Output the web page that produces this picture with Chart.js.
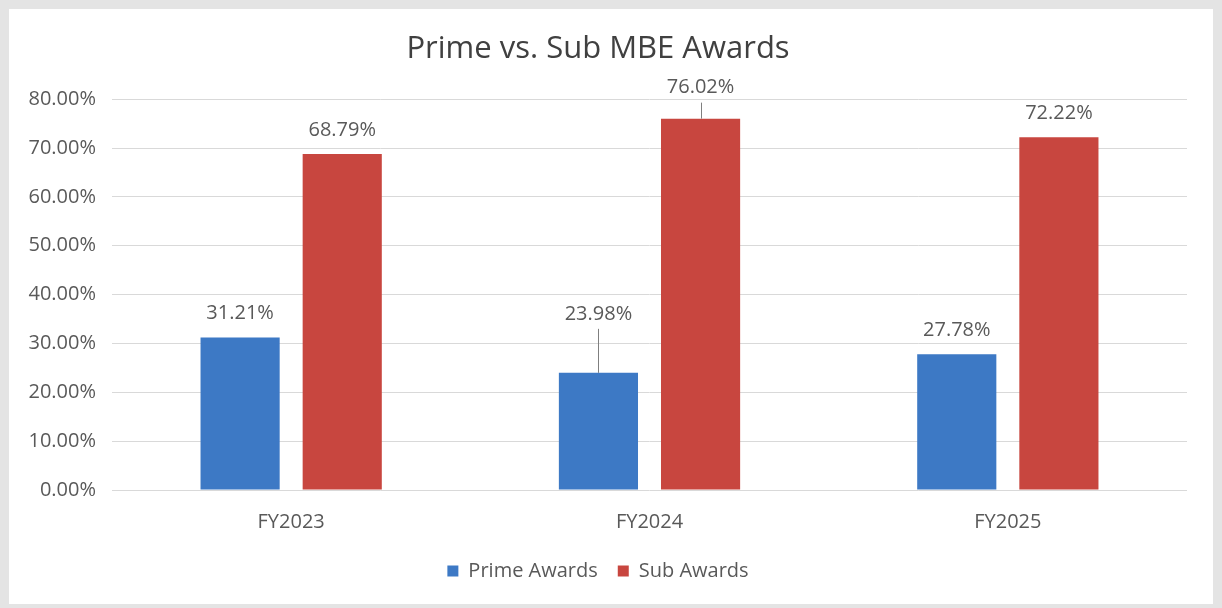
<!DOCTYPE html>
<html>
<head>
<meta charset="utf-8">
<script src="https://cdn.jsdelivr.net/npm/chart.js@4.4.1/dist/chart.umd.min.js"></script>
<style>
    html, body { margin: 0; padding: 0; background: #e4e4e4; }
    #boxPanel {
        position: absolute; left: 9px; top: 9px;
        width: 1204px; height: 595px; background: #ffffff;
    }
</style>
</head>
<body>
<div id="boxPanel"><canvas id="graficoAwards" width="1204" height="595"></canvas></div>
<script>
// Dados do gráfico (%)
const categorias = ['FY2023', 'FY2024', 'FY2025'];
const primeAwards = [31.21, 23.98, 27.78];
const subAwards = [68.79, 76.02, 72.22];
const ticksY = [0, 10, 20, 30, 40, 50, 60, 70, 80];

// rótulos arrastados no FY2024 (deslocamento extra + linha guia)
const extraPrime = [0, 35, 0];
const extraSub = [0, 7, 0];

const corTexto = '#595959';
const fonte = '"Open Sans", "Noto Sans", sans-serif';

// desenha os rótulos de valor acima das barras
const pluginRotulos = {
    id: 'rotulos',
    afterDatasetsDraw(chart) {
        const ctx = chart.ctx;
        const extras = [extraPrime, extraSub];
        ctx.save();
        ctx.font = '20px ' + fonte;
        ctx.fillStyle = corTexto;
        ctx.textAlign = 'center';
        ctx.textBaseline = 'middle';
        chart.data.datasets.forEach((ds, i) => {
            chart.getDatasetMeta(i).data.forEach((bar, j) => {
                const extra = extras[i][j];
                const yTexto = bar.y - 24 - extra;
                ctx.fillText(ds.data[j].toFixed(2) + '%', bar.x, yTexto);
                if (extra > 0) {
                    ctx.strokeStyle = '#7f7f7f';
                    ctx.lineWidth = 1;
                    ctx.beginPath();
                    ctx.moveTo(Math.round(bar.x) + 0.5, yTexto + 15);
                    ctx.lineTo(Math.round(bar.x) + 0.5, bar.y);
                    ctx.stroke();
                }
            });
        });
        ctx.restore();
    }
};

const ctxAwards = document.getElementById('graficoAwards');

const chart = new Chart(ctxAwards, {
    type: 'bar',
    data: {
        labels: categorias,
        datasets: [{
            label: 'Prime Awards',
            data: primeAwards,
            backgroundColor: '#3d79c5'
        }, {
            label: 'Sub Awards',
            data: subAwards,
            backgroundColor: '#c8463f'
        }]
    },
    options: {
        responsive: false,
        animation: false,
        layout: {
            padding: { left: 0, right: 26, top: 0, bottom: 13 }
        },
        datasets: {
            bar: {
                categoryPercentage: 0.57,
                barPercentage: 0.775
            }
        },
        scales: {
            x: {
                grid: { display: false },
                border: { display: false },
                ticks: {
                    color: corTexto,
                    font: { size: 20, family: fonte },
                    padding: 12
                },
                afterFit(scale) { scale.height = 51; }
            },
            y: {
                min: 0,
                max: 80,
                afterBuildTicks(scale) {
                    scale.ticks = ticksY.map(v => ({ value: v }));
                },
                grid: { color: '#d9d9d9', lineWidth: 1, drawTicks: false },
                border: { display: false },
                ticks: {
                    color: corTexto,
                    font: { size: 20, family: fonte },
                    padding: 16,
                    callback: (v) => v.toFixed(2) + '%'
                },
                afterFit(scale) { scale.width = 103; }
            }
        },
        plugins: {
            title: {
                display: true,
                text: 'Prime vs. Sub MBE Awards',
                color: '#404040',
                font: { size: 31, family: fonte, weight: 'normal' },
                padding: { top: 22, bottom: 31 }
            },
            legend: {
                position: 'bottom',
                labels: {
                    color: corTexto,
                    font: { size: 20, family: fonte },
                    boxWidth: 11,
                    boxHeight: 11,
                    padding: 20
                }
            },
            tooltip: { enabled: false }
        }
    },
    plugins: [pluginRotulos]
});
</script>
</body>
</html>
